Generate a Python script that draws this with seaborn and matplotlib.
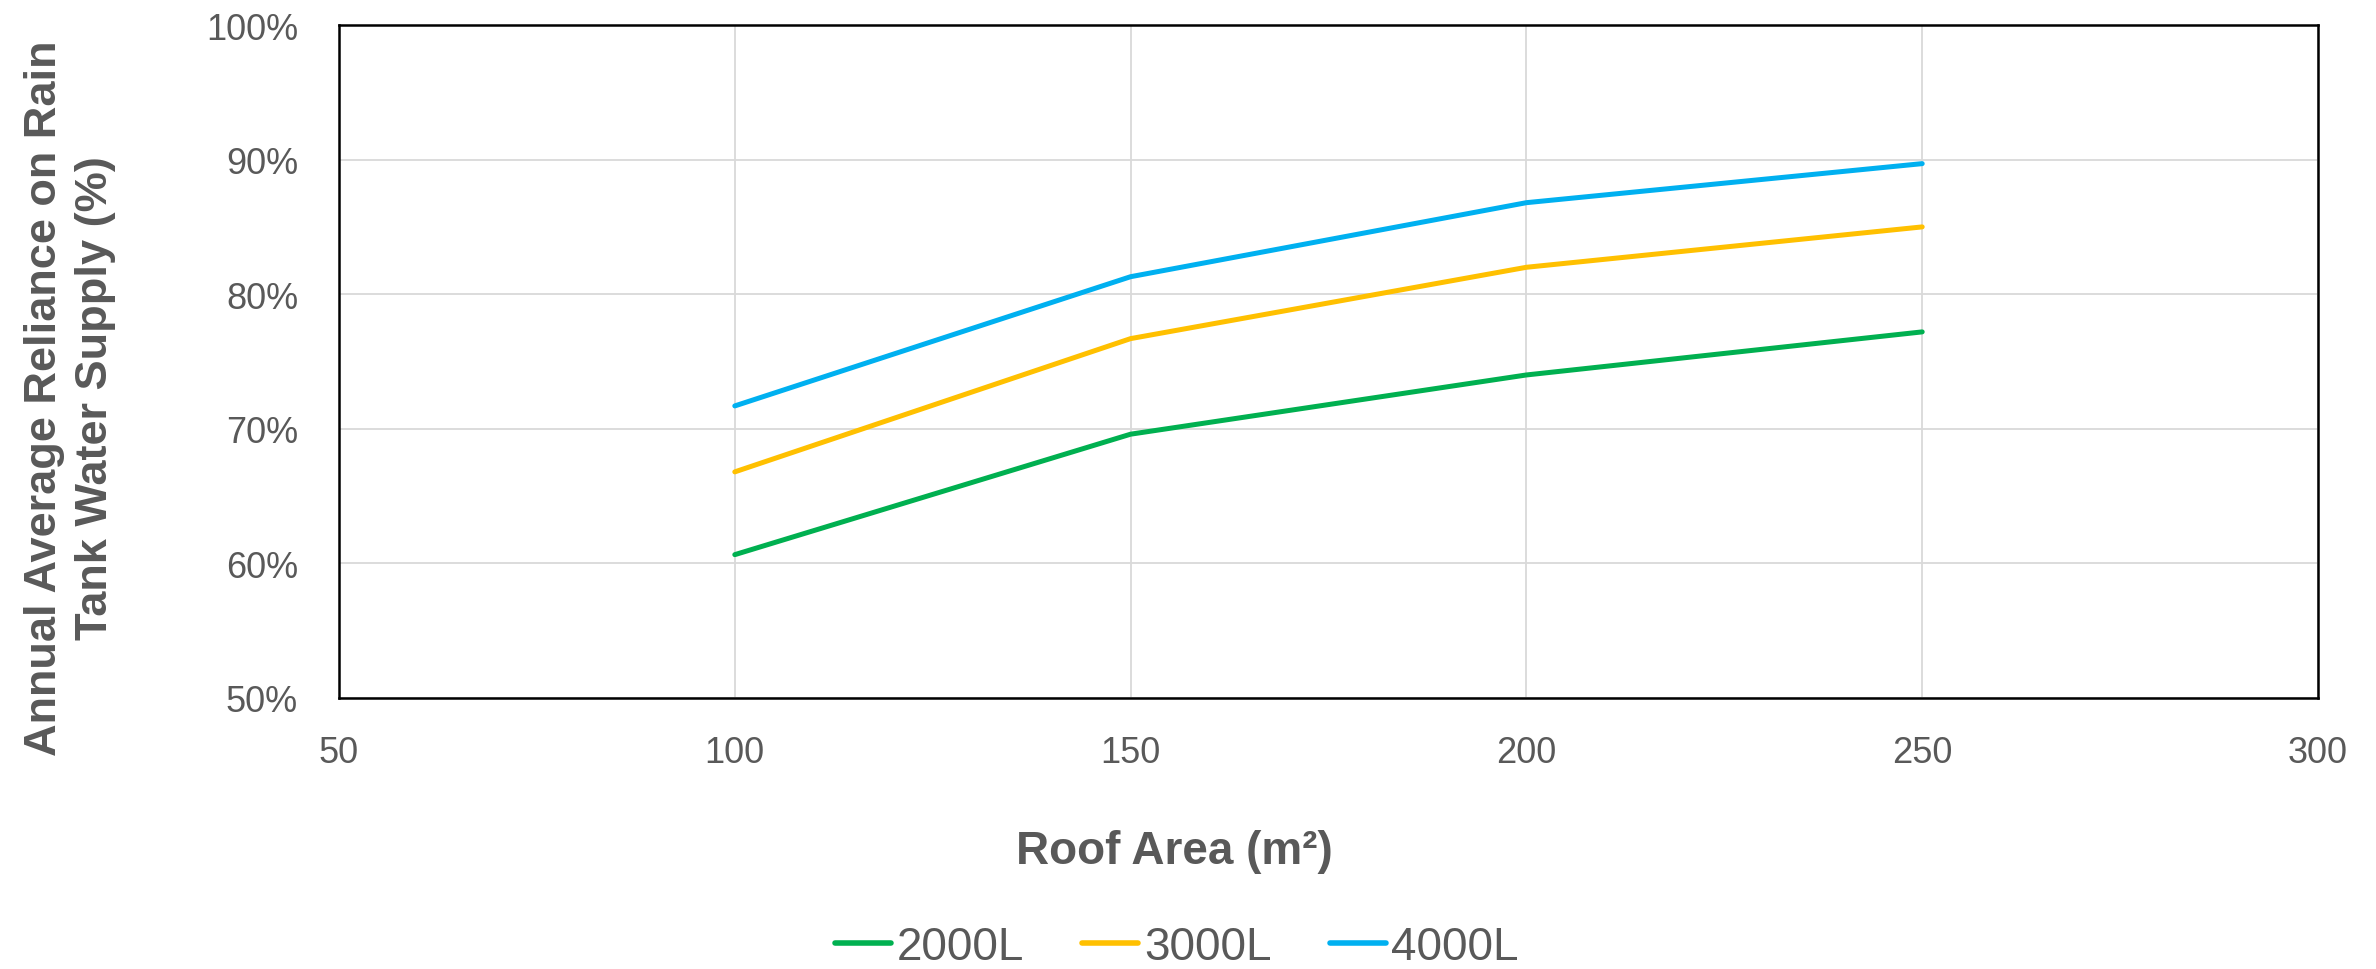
import matplotlib
matplotlib.use("Agg")
import matplotlib.pyplot as plt
import seaborn as sns
import pandas as pd

# ---- data ----
roof_area = [100, 150, 200, 250]
tank_2000 = [60.65, 69.6, 74.0, 77.2]
tank_3000 = [66.8, 76.7, 82.0, 85.0]
tank_4000 = [71.7, 81.3, 86.8, 89.7]
series_names = ["2000L", "3000L", "4000L"]
x_ticks = [50, 100, 150, 200, 250, 300]
y_ticks = [50, 60, 70, 80, 90, 100]

colors = ["#00B050", "#FFC000", "#00B0F0"]
text_color = "#595959"

rows = []
for name, vals in zip(series_names, [tank_2000, tank_3000, tank_4000]):
    for xa, v in zip(roof_area, vals):
        rows.append({"Roof Area": xa, "Reliance": v, "Tank": name})
df = pd.DataFrame(rows)

sns.set_theme(style="white")
plt.rcParams["font.family"] = ["Liberation Sans", "DejaVu Sans"]

W, H = 2376, 970
fig = plt.figure(figsize=(W / 100, H / 100), dpi=100)
ax = fig.add_axes([339 / W, 1 - 699 / H, (2318 - 339) / W, (699 - 26) / H])

sns.lineplot(data=df, x="Roof Area", y="Reliance", hue="Tank",
             palette=colors, hue_order=series_names, linewidth=3.6,
             solid_capstyle="round", solid_joinstyle="round", ax=ax, legend=True)

ax.set_xlim(50, 300)
ax.set_ylim(50, 100)
ax.set_xticks(x_ticks)
ax.set_yticks(y_ticks)
ax.set_xticklabels([str(t) for t in x_ticks])
ax.set_yticklabels([f"{t}%" for t in y_ticks])
ax.grid(True, color="#D9D9D9", linewidth=1.3)
ax.set_axisbelow(True)
for s in ax.spines.values():
    s.set_visible(True)
    s.set_color("black")
    s.set_linewidth(1.8)
ax.tick_params(axis="both", length=0, labelsize=26, labelcolor=text_color)
ax.tick_params(axis="y", pad=29.5)
ax.tick_params(axis="x", pad=27)
ax.set_xlabel("")
ax.set_ylabel("")

handles, labels = ax.get_legend_handles_labels()
ax.get_legend().remove()
for h in handles:
    h.set_linewidth(4.0)
    h.set_solid_capstyle("round")
fig.legend(handles, labels, loc="center", bbox_to_anchor=(1177 / W, 1 - 948 / H),
           ncol=3, frameon=False, fontsize=33, labelcolor=text_color,
           handlelength=1.22, handletextpad=0.12, columnspacing=1.28,
           borderpad=0, borderaxespad=0)

fig.text(1174 / W, 1 - 852 / H, "Roof Area (m²)", ha="center", va="center",
         fontsize=33, fontweight="bold", color=text_color)
fig.text(70 / W, 1 - 398 / H, "Annual Average Reliance on Rain\nTank Water Supply (%)",
         rotation=90, ha="center", va="center", multialignment="center",
         fontsize=32.5, fontweight="bold", color=text_color, linespacing=1.3)

fig.savefig("out.png", dpi=100)
